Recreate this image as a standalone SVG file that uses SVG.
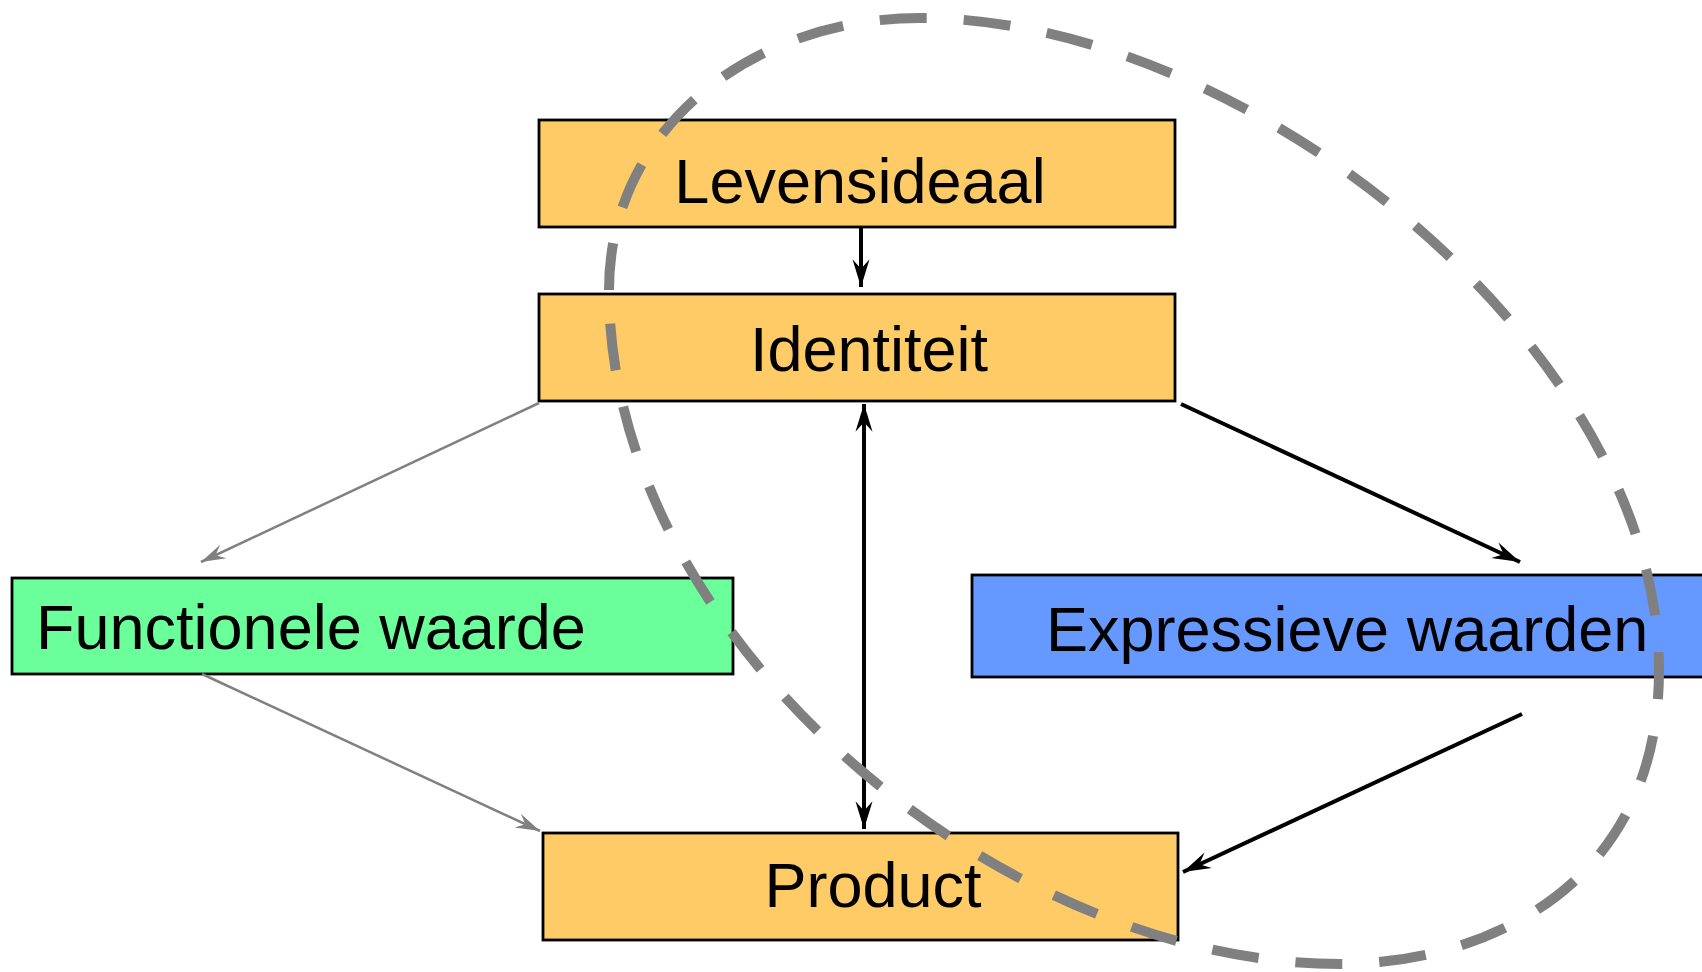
<svg xmlns="http://www.w3.org/2000/svg" width="1702" height="972" viewBox="0 0 1702 972">
<style>
.box{stroke:#000;stroke-width:2.8}
.orange{fill:#FECB67}
.green{fill:#6AFF9A}
.blue{fill:#6699FF}
.lbl{font-family:"Liberation Sans",Arial,sans-serif;font-size:63px;fill:#000}
.blk{stroke:#000;stroke-width:4;fill:none}
.gry{stroke:#808080;stroke-width:2.5;fill:none}
.loop{stroke:#808080;stroke-width:10;fill:none;stroke-dasharray:47 37}
</style>
<defs>
<marker id="ab" markerUnits="userSpaceOnUse" markerWidth="32" markerHeight="22" viewBox="-28 -10 30 20" refX="0" refY="0" orient="auto-start-reverse">
<path d="M0,0 L-26,-8 L-17,0 L-26,8 Z" fill="#000"/>
</marker>
<marker id="ag" markerUnits="userSpaceOnUse" markerWidth="30" markerHeight="20" viewBox="-26 -8 28 16" refX="0" refY="0" orient="auto">
<path d="M0,0 L-23,-7 L-15,0 L-23,7 Z" fill="#808080"/>
</marker>
</defs>
<rect width="1702" height="972" fill="#fff"/>
<g id="nodes">
<g id="levensideaal"><rect class="box orange" x="539" y="120" width="636" height="107"/><text class="lbl" x="860" y="203" text-anchor="middle">Levensideaal</text></g>
<g id="identiteit"><rect class="box orange" x="539" y="294" width="636" height="107"/><text class="lbl" x="869" y="371" text-anchor="middle">Identiteit</text></g>
<g id="functionele"><rect class="box green" x="12" y="578" width="721" height="96"/><text class="lbl" x="36" y="649">Functionele waarde</text></g>
<g id="expressieve"><rect class="box blue" x="972" y="575" width="760" height="102"/><text class="lbl" x="1046" y="651">Expressieve waarden</text></g>
<g id="product"><rect class="box orange" x="543" y="833" width="635" height="107"/><text class="lbl" x="873" y="907" text-anchor="middle">Product</text></g>
</g>
<g id="connectors">
<line class="blk" x1="861" y1="228" x2="861" y2="287" marker-end="url(#ab)"/>
<line class="blk" x1="864" y1="404" x2="864" y2="829" marker-start="url(#ab)" marker-end="url(#ab)"/>
<line class="blk" x1="1181" y1="404" x2="1520" y2="562" marker-end="url(#ab)"/>
<line class="blk" x1="1522" y1="714" x2="1183" y2="872" marker-end="url(#ab)"/>
<line class="gry" x1="539" y1="403" x2="201" y2="562" marker-end="url(#ag)"/>
<line class="gry" x1="202" y1="674" x2="540" y2="831" marker-end="url(#ag)"/>
</g>
<g id="loop">
<path class="loop" d="M609,290 C609,130 750,18 920,18 C1250,18 1659,350 1659,670 C1659,890 1480,964 1340,964 C1000,964 609,640 609,290 Z"/>
</g>
</svg>
